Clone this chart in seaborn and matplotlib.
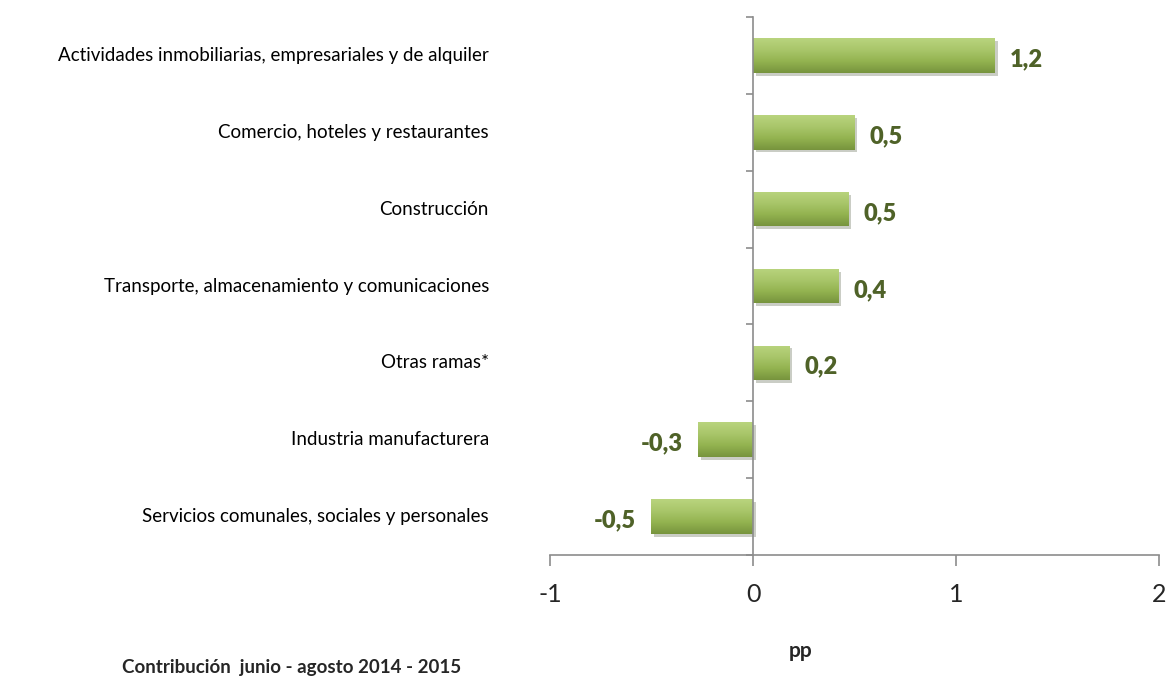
import numpy as np
import pandas as pd
import matplotlib
matplotlib.use("Agg")
import matplotlib.pyplot as plt
import matplotlib.patheffects as pe
import seaborn as sns

# Data
sectors = [
    "Actividades inmobiliarias, empresariales y de alquiler",
    "Comercio, hoteles y restaurantes",
    "Construcción",
    "Transporte, almacenamiento y comunicaciones",
    "Otras ramas*",
    "Industria manufacturera",
    "Servicios comunales, sociales y personales",
]
contrib = [1.19, 0.50, 0.47, 0.42, 0.18, -0.27, -0.50]
x_ticks = [-1, 0, 1, 2]

df = pd.DataFrame({"sector": sectors, "pp": contrib})

sns.set_style("white")
plt.rcParams["font.family"] = ["Lato", "DejaVu Sans"]

fig = plt.figure(figsize=(11.7, 6.81), dpi=100)
ax = fig.add_axes([0.470, 0.185, 0.521, 0.790])

sns.barplot(data=df, x="pp", y="sector", orient="h", color="#9bbb59",
            width=0.45, ax=ax, saturation=1)

ax.set_xlim(-1, 2)
ax.set_ylim(6.5, -0.5)

# gradient fill on each bar, with a soft shadow
grad = np.linspace(0, 1, 100).reshape(-1, 1)
cmap = matplotlib.colors.LinearSegmentedColormap.from_list(
    "g", ["#b9d47e", "#a9c66a", "#93b350", "#77943d"])
for p in ax.patches:
    p.set_edgecolor("none")
    p.set_path_effects([pe.SimplePatchShadow(offset=(2, -2), alpha=0.25),
                        pe.Normal()])
    x0, y0 = p.get_x(), p.get_y()
    w, h = p.get_width(), p.get_height()
    im = ax.imshow(grad, cmap=cmap, aspect="auto", zorder=p.get_zorder() + 0.1,
                   extent=[x0, x0 + w, y0 + h, y0], origin="upper")
    im.set_clip_path(p)

# value labels
olive = "#4f6228"
for i, v in enumerate(contrib):
    txt = f"{v:.1f}".replace(".", ",")
    if v >= 0:
        ax.text(v + 0.075, i + 0.05, txt, ha="left", va="center",
                fontsize=17, fontweight="heavy", color=olive)
    else:
        ax.text(v - 0.075, i + 0.05, txt, ha="right", va="center",
                fontsize=17, fontweight="heavy", color=olive)

# category labels on the far left
for i, s in enumerate(sectors):
    ax.text(-0.10, i, s, transform=ax.get_yaxis_transform(), ha="right",
            va="center", fontsize=13.5, color="#000000")

# axes styling
gray = "#8c8c8c"
ax.spines["left"].set_position(("data", 0))
ax.spines["top"].set_visible(False)
ax.spines["right"].set_visible(False)
for s in ["left", "bottom"]:
    ax.spines[s].set_color(gray)
    ax.spines[s].set_linewidth(1.2)

ax.set_yticks(np.arange(-0.5, 7, 1))
ax.set_yticklabels([])
ax.tick_params(axis="y", left=True, direction="out", length=5, color=gray,
               width=1.2)
ax.set_xticks(x_ticks)
ax.set_xticklabels([str(t) for t in x_ticks])
ax.tick_params(axis="x", bottom=True, direction="out", length=8, color=gray,
               width=1.2, labelsize=18, pad=12)
ax.set_xlabel("")
ax.set_ylabel("")

fig.text(801 / 1170, 1 - 651 / 681, "pp", ha="center", va="center",
         fontsize=15, fontweight="bold")
fig.text(122 / 1170, 1 - 667 / 681, "Contribución  junio - agosto 2014 - 2015",
         ha="left", va="center", fontsize=13.5, fontweight="bold")

fig.savefig("out.png", dpi=100)
